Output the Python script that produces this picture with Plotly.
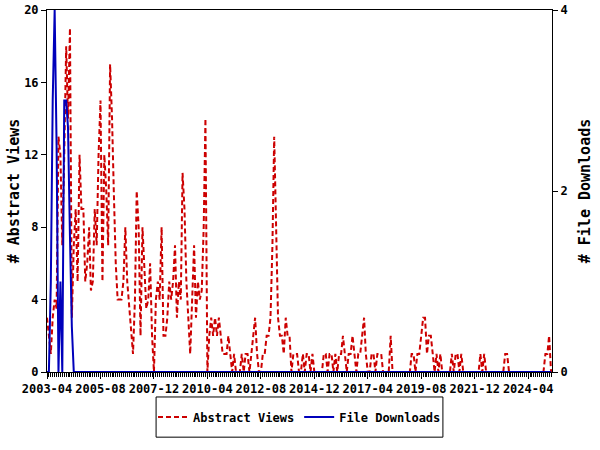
import plotly.graph_objects as go
import pandas as pd

start_month = "2003-04-01"
n_months = 265
months = pd.date_range(start_month, periods=n_months, freq="MS").strftime("%Y-%m-%d").tolist()

abstract_views = [
    3, 2, 1, 3, 4, 3.5, 13, 12, 7, 12,
    18, 14, 19, 3, 7, 9, 5, 12, 9, 9,
    5, 6, 8, 4.5, 5, 9, 7, 12, 15, 5,
    12, 10, 7, 17, 14, 10, 6, 4, 4, 4,
    5, 8, 5, 3.5, 2, 1, 4, 10, 8, 2,
    8, 6, 3.5, 4, 6, 2, 0, 4, 5, 4,
    8, 2, 2, 3, 5, 4, 5, 7, 3, 5,
    4, 11, 9, 5, 3, 1, 4, 7, 3, 5,
    4, 4.5, 8, 14, 0, 2, 3, 2, 3, 2,
    3, 2, 1, 1, 1, 2, 1, 0, 1, 0,
    0, 0, 1, 0, 1, 1, 0, 1, 2, 3,
    1, 0, 0, 1, 1, 2, 2, 3, 7, 13,
    8, 3, 2, 2, 1, 3, 2, 2, 0, 1,
    1, 1, 0, 0, 1, 0, 1, 1, 0, 1,
    0, 0, 0, 0, 0, 1, 1, 0, 1, 1,
    0, 1, 0, 1, 1, 2, 1, 0, 1, 1,
    2, 1, 0, 1, 1, 2, 3, 1, 0, 0,
    1, 1, 0, 1, 1, 1, 0, 0, 0, 0,
    2, 0, 0, 0, 0, 0, 0, 0, 0, 0,
    0, 1, 1, 0, 1, 1, 2, 3, 3, 1,
    2, 2, 1, 0, 1, 0, 1, 0, 0, 0,
    0, 0, 1, 0, 1, 1, 0, 1, 0, 0,
    0, 0, 0, 0, 0, 0, 0, 1, 0, 1,
    0, 0, 0, 0, 0, 0, 0, 0, 0, 0,
    1, 1, 0, 0, 0, 0, 0, 0, 0, 0,
    0, 0, 0, 0, 0, 0, 0, 0, 0, 0,
    0, 1, 1, 2, 0,
]

file_downloads = [
    0, 0, 1, 3, 4, 2.5, 0, 1, 0, 3,
    3, 2.7, 1.5, 0.5,
] + [0] * (n_months - 14)

red = "#cc0000"
blue = "#0000bb"
font_family = "DejaVu Sans Mono"

fig = go.Figure()
fig.add_trace(go.Scatter(
    x=months, y=abstract_views, name="Abstract Views", mode="lines",
    line=dict(color=red, width=2, dash="5px,3px"),
))
fig.add_trace(go.Scatter(
    x=months, y=file_downloads, name="File Downloads", mode="lines",
    line=dict(color=blue, width=2), yaxis="y2",
))

tick_font = dict(family=font_family, size=12, color="black", weight="bold")
title_font = dict(family=font_family, size=15, color="black", weight="bold")

fig.update_layout(
    width=600, height=450,
    margin=dict(l=47, r=48, t=10, b=78, autoexpand=False),
    paper_bgcolor="white", plot_bgcolor="white",
    font=dict(family=font_family, size=12, color="black"),
    showlegend=True,
    legend=dict(
        orientation="h", x=0.5, xanchor="center", y=-0.124, yanchor="middle",
        borderwidth=0, bgcolor="rgba(0,0,0,0)",
        font=dict(family=font_family, size=12, color="black", weight="bold"),
        itemwidth=30, tracegroupgap=0,
    ),
    xaxis=dict(
        type="date", range=["2003-04-01", "2025-04-16"], automargin=False,
        tick0="2003-04-01", dtick="M28", tickformat="%Y-%m",
        ticks="outside", ticklen=6, tickcolor="black",
        showline=True, linecolor="black", linewidth=1, mirror=True,
        showgrid=False, zeroline=False, ticklabeloverflow="allow",
        tickfont=tick_font,
        minor=dict(dtick="M1", tick0="2003-04-01", ticks="outside", ticklen=4,
                   tickcolor="black", tickwidth=1, showgrid=False),
    ),
    yaxis=dict(
        title=dict(text="# Abstract Views", font=title_font, standoff=0),
        range=[0, 20], dtick=4, ticks="outside", ticklen=5, tickcolor="black",
        showline=True, linecolor="black", linewidth=1, automargin=False,
        showgrid=False, zeroline=False, tickfont=tick_font,
        ticklabeloverflow="allow",
    ),
    yaxis2=dict(
        title=dict(text="# File Downloads", font=title_font, standoff=12),
        range=[0, 4], dtick=2, overlaying="y", side="right", automargin=False,
        ticks="outside", ticklen=5, tickcolor="black",
        showline=True, linecolor="black", linewidth=1,
        showgrid=False, zeroline=False, tickfont=tick_font,
        ticklabeloverflow="allow",
    ),
    shapes=[dict(
        type="rect", xref="paper", yref="paper",
        x0=0.216, x1=0.784, y0=-0.069, y1=-0.18,
        line=dict(color="black", width=1), fillcolor="rgba(0,0,0,0)",
    )],
)

fig.write_html("out.html", config={"displayModeBar": False},
               post_script="document.body.style.margin='0';")
